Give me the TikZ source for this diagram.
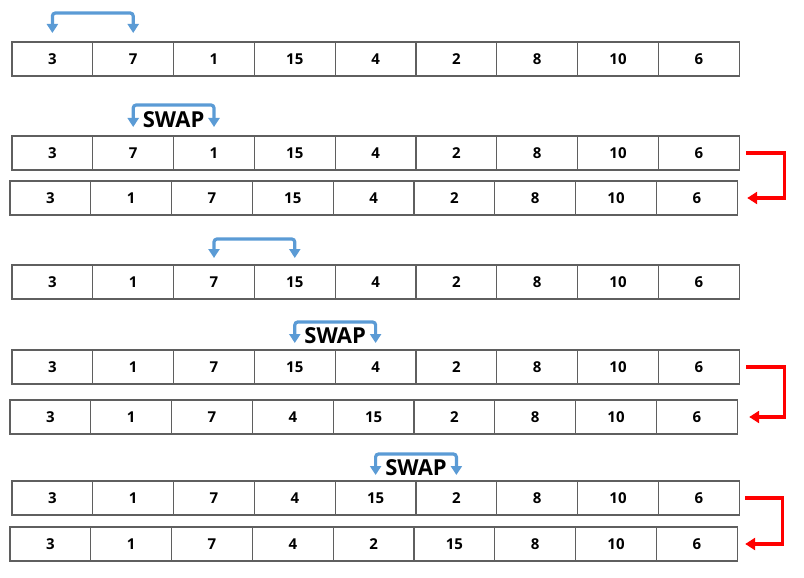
\documentclass[tikz,border=0pt]{standalone}
\usepackage{fontspec}
\setmainfont{Open Sans}
\usetikzlibrary{arrows.meta}
\definecolor{swapblue}{RGB}{91,155,213}
\definecolor{cellgray}{RGB}{95,95,95}
\begin{document}
\begin{tikzpicture}[x=1pt,y=-1pt,
 cell/.style={draw=cellgray, line width=1.1pt, minimum width=80.8pt, minimum height=34pt, inner sep=0pt, outer sep=0pt, anchor=north west, font=\bfseries\fontsize{15}{17}\selectfont},
 bluearr/.style={draw=swapblue, line width=3.2pt, rounded corners=3pt, {Triangle[width=11pt,length=9pt]}-{Triangle[width=11pt,length=9pt]}},
 redarr/.style={draw=red, line width=3.2pt, -{Triangle[width=12pt,length=10pt]}},
 swaplbl/.style={font=\bfseries\fontsize{22}{24}\selectfont, inner sep=0pt}]
\useasboundingbox (0,0) rectangle (804,578);
\foreach \r/\x/\y/\vals in {
  1/12/42/{3,7,1,15,4,2,8,10,6},
  2/12/136/{3,7,1,15,4,2,8,10,6},
  3/10/181/{3,1,7,15,4,2,8,10,6},
  4/12/265/{3,1,7,15,4,2,8,10,6},
  5/12/350/{3,1,7,15,4,2,8,10,6},
  6/10/400/{3,1,7,4,15,2,8,10,6},
  7/12/481/{3,1,7,4,15,2,8,10,6},
  8/10/527/{3,1,7,4,2,15,8,10,6}}{
  \foreach \v [count=\i] in \vals {
    \node[cell] (r\r-\i) at ({\x+(\i-1)*80.8},\y) {\v};
  }
}
% blue brackets
\draw[bluearr] ([yshift=9pt]r1-1.north) -- ([yshift=29pt]r1-1.north) -- ([yshift=29pt]r1-2.north) -- ([yshift=9pt]r1-2.north);
\draw[bluearr] ([yshift=9pt]r2-2.north) -- ([yshift=31pt]r2-2.north) -- ([yshift=31pt]r2-3.north) -- ([yshift=9pt]r2-3.north);
\node[swaplbl] (s1) at ([yshift=16pt]r2-2.north east) {SWAP};
\draw[bluearr] ([yshift=7pt]r4-3.north) -- ([yshift=26pt]r4-3.north) -- ([yshift=26pt]r4-4.north) -- ([yshift=7pt]r4-4.north);
\draw[bluearr] ([yshift=7pt]r5-4.north) -- ([yshift=28pt]r5-4.north) -- ([yshift=28pt]r5-5.north) -- ([yshift=7pt]r5-5.north);
\node[swaplbl] (s2) at ([yshift=14pt]r5-4.north east) {SWAP};
\draw[bluearr] ([yshift=6pt]r7-5.north) -- ([yshift=27pt]r7-5.north) -- ([yshift=27pt]r7-6.north) -- ([yshift=6pt]r7-6.north);
\node[swaplbl] (s3) at ([yshift=13pt]r7-5.north east) {SWAP};
% red arrows
\draw[redarr] ([xshift=7pt]r2-9.east) -- ++(38,0) |- ([xshift=10pt]r3-9.east);
\draw[redarr] ([xshift=7pt]r5-9.east) -- ++(38,0) |- ([xshift=12pt]r6-9.east);
\draw[redarr] ([xshift=6pt]r7-9.east) -- ++(37,0) |- ([xshift=8pt]r8-9.east);
\end{tikzpicture}
\end{document}
